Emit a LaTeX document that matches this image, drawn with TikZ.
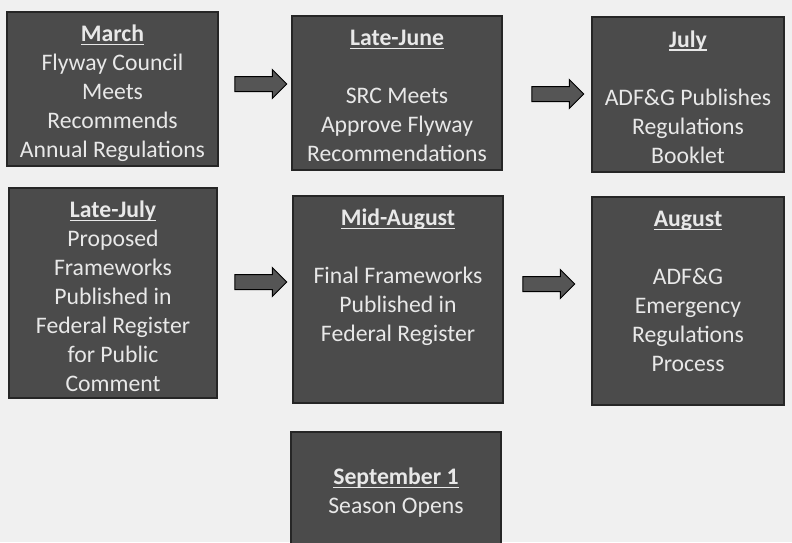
\documentclass[tikz,border=0pt]{standalone}
\usepackage{fontspec}
\setmainfont{Carlito}
\usetikzlibrary{shapes.arrows, positioning}

\definecolor{paper}{HTML}{F0F0F0}
\definecolor{boxfill}{HTML}{4B4B4B}
\definecolor{boxline}{HTML}{262626}
\definecolor{boxtext}{HTML}{E8E8E8}
\definecolor{arrowfill}{HTML}{555555}

% underlined bold heading
\newcommand{\stagehead}[1]{\setbox0\hbox{\textbf{#1}}\rlap{\rule[-3.5pt]{\wd0}{1.4pt}}\box0}
% width, height, first baseline, heading, lines
\newcommand{\stagetext}[5]{\parbox[c][#2pt][t]{#1pt}{\centering\rule{0pt}{#3pt}\stagehead{#4}\\#5}}

\begin{document}
\begin{tikzpicture}[x=1pt,y=-1pt,every node/.style={inner sep=0,outer sep=0},
    stage/.style={anchor=north west,draw=boxline,line width=1.5pt,fill=boxfill,
      text=boxtext,font=\fontsize{23.7}{29}\selectfont},
    flow/.style={single arrow,draw=black,line width=1pt,fill=arrowfill,
      inner xsep=0pt,inner ysep=7pt,minimum height=52pt,
      single arrow head extend=7pt,single arrow head indent=0pt}]
      \fill[paper](0,0) rectangle (792,542);
      \useasboundingbox(0,0) rectangle (792,542);

      % first row
      \node(march)[stage] at (7,12){\stagetext{211}{154}{29.5}{March}{Flyway Council\\Meets\\Recommends\\Annual Regulations}};
      \node(latejune)[stage] at (292,16){\stagetext{210}{154}{29.5}{Late-June}{~\\SRC Meets\\Approve Flyway\\Recommendations}};
      \node(july)[stage] at (592,17){\stagetext{192}{155}{30}{July}{~\\ADF\&G Publishes\\Regulations\\Booklet}};

      % second row
      \node(latejuly)[stage] at (9,188){\stagetext{208}{210}{29.5}{Late-July}{Proposed\\Frameworks\\Published in\\Federal Register\\for Public\\Comment}};
      \node(midaug)[stage] at (293,196){\stagetext{210}{207}{29.5}{Mid-August}{~\\Final Frameworks\\Published in\\Federal Register}};
      \node(august)[stage] at (592,197){\stagetext{192}{208}{29.5}{August}{~\\ADF\&G\\Emergency\\Regulations\\Process}};

      % opening day
      \node(sept)[stage] at (291,432){\stagetext{210}{120}{52.5}{September 1}{Season Opens}};

      \node(arr1)[flow] at (257,84){};
      \node(arr2)[flow] at (554,94){};
      \node(arr3)[flow] at (257,282){};
      \node(arr4)[flow] at (545,284){};
    \end{tikzpicture}
\end{document}
